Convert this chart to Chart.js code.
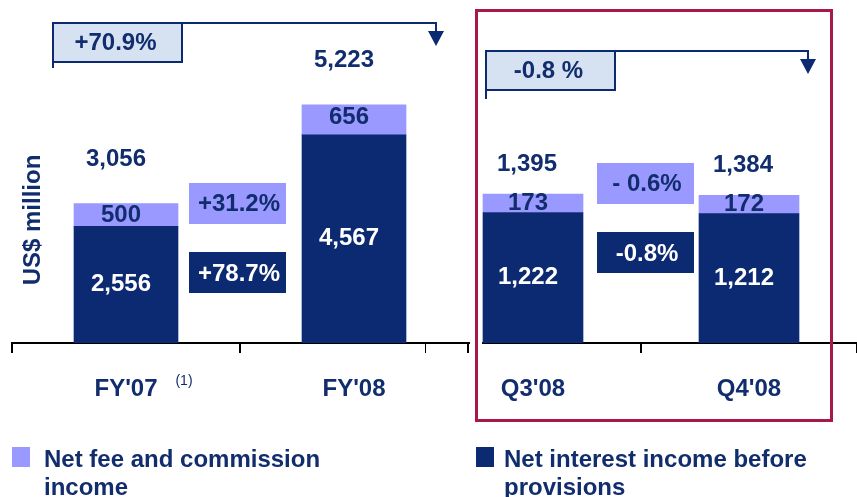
<!DOCTYPE html>
<html>
<head>
<meta charset="utf-8">
<script src="https://cdn.jsdelivr.net/npm/chart.js@4"></script>
<style>
  html, body { margin: 0; padding: 0; background: #fff; }
  #wrap { position: relative; width: 857px; height: 497px; overflow: hidden; font-family: 'Liberation Sans', Arial, sans-serif; }
  #leftBox { position: absolute; left: 0; top: 0; width: 470px; height: 497px; }
  #rightBox { position: absolute; left: 425px; top: 0; width: 432px; height: 497px; }
  .sq { position: absolute; width: 18px; height: 20px; }
  .legText { position: absolute; font-size: 24px; font-weight: bold; line-height: 28px; color: #112d6e; }
</style>
</head>
<body>
<div id="wrap">
  <div id="leftBox"><canvas id="leftChart"></canvas></div>
  <div id="rightBox"><canvas id="rightChart"></canvas></div>
  <div class="sq" style="left:12px;top:447px;background:#9999ff"></div>
  <div class="legText" style="left:44px;top:445px">Net fee and commission<br>income</div>
  <div class="sq" style="left:476px;top:447px;background:#0c2a72"></div>
  <div class="legText" style="left:504px;top:445px">Net interest income before<br>provisions</div>
</div>
<script>
// data
const fyLabels = ["FY'07", "FY'08"];
const fyInterest = [2556, 4567];
const fyFee = [500, 656];
const fyTotals = [3056, 5223];
const fyGrowth = ['+70.9%', '+31.2%', '+78.7%']; // total, fee, interest

const qLabels = ["Q3'08", "Q4'08"];
const qInterest = [1222, 1212];
const qFee = [173, 172];
const qTotals = [1395, 1384];
const qGrowth = ['-0.8 %', '- 0.6%', '-0.8%'];

const NAVY = '#0c2a72';
const TXT = '#112d6e';
const LILAC = '#9999ff';
const PALE = '#d6e2f1';
const FONT = "'Liberation Sans', Arial, sans-serif";
const SIZE = 24;

function fmt(v) { return v.toLocaleString('en-US'); }

function text(ctx, s, x, y, color, size, weight) {
    ctx.fillStyle = color;
    ctx.font = (weight || 'bold') + ' ' + (size || SIZE) + 'px ' + FONT;
    ctx.textAlign = 'center';
    ctx.textBaseline = 'middle';
    ctx.fillText(s, x, y);
}

function bracket(ctx, x1, x2, y, drop, box) {
    ctx.strokeStyle = NAVY;
    ctx.lineWidth = 2;
    ctx.beginPath();
    ctx.moveTo(x1, y + drop);
    ctx.lineTo(x1, y);
    ctx.lineTo(x2, y);
    ctx.lineTo(x2, y + 9);
    ctx.stroke();
    ctx.fillStyle = NAVY;
    ctx.beginPath();
    ctx.moveTo(x2 - 8, y + 8);
    ctx.lineTo(x2 + 8, y + 8);
    ctx.lineTo(x2, y + 23);
    ctx.closePath();
    ctx.fill();
    ctx.fillStyle = PALE;
    ctx.fillRect(x1, y, box.w, box.h);
    ctx.strokeRect(x1, y, box.w, box.h);
    text(ctx, box.label, x1 + box.w / 2 - 2, y + box.h / 2 + 1, TXT);
}

function growthBoxes(ctx, cx, yFee, yInt, labels) {
    ctx.fillStyle = LILAC;
    ctx.fillRect(cx - 48, yFee, 97, 41);
    text(ctx, labels[1], cx + 2, yFee + 21, TXT);
    ctx.fillStyle = NAVY;
    ctx.fillRect(cx - 48, yInt, 97, 41);
    text(ctx, labels[2], cx + 2, yInt + 22, '#ffffff');
}

// value labels on and above the stacked bars
function barLabels(chart, totals, totalLift, totalShift) {
    const ctx = chart.ctx;
    const dark = chart.getDatasetMeta(0).data;
    const light = chart.getDatasetMeta(1).data;
    dark.forEach((el, i) => {
        text(ctx, fmt(chart.data.datasets[0].data[i]), el.x - 5, (el.y + el.base) / 2, '#ffffff');
        const l = light[i];
        text(ctx, fmt(chart.data.datasets[1].data[i]), l.x - 5, Math.min(l.y + 13, (l.y + l.base) / 2), TXT);
        text(ctx, fmt(totals[i]), l.x + totalShift, l.y - totalLift, TXT);
    });
}

const leftDeco = {
    id: 'leftDeco',
    afterDatasetsDraw(chart) {
        const ctx = chart.ctx;
        const a = chart.chartArea;
        ctx.save();
        barLabels(chart, fyTotals, 44, -10);
        const mid = (a.left + a.right) / 2;
        growthBoxes(ctx, mid - 3, 183, 252, fyGrowth);
        bracket(ctx, 53, 436, 23, 45, { w: 129, h: 39, label: fyGrowth[0] });
        // footnote marker next to FY'07
        text(ctx, '(1)', 184, 381, TXT, 14, 'normal');
        // y axis title
        ctx.translate(33, 220);
        ctx.rotate(-Math.PI / 2);
        text(ctx, 'US$ million', 0, 0, TXT);
        ctx.restore();
    }
};

const rightDeco = {
    id: 'rightDeco',
    afterDatasetsDraw(chart) {
        const ctx = chart.ctx;
        ctx.save();
        barLabels(chart, qTotals, 30, -6);
        ctx.translate(-425, 0);
        // small break in the axis at the framed panel
        ctx.fillStyle = '#ffffff';
        ctx.fillRect(470, 339, 12, 16);
        growthBoxes(ctx, 645, 163, 232, qGrowth);
        bracket(ctx, 486, 808, 51, 48, { w: 129, h: 39, label: qGrowth[0] });
        ctx.strokeStyle = '#a8184c';
        ctx.lineWidth = 3;
        ctx.strokeRect(476.5, 10.5, 355, 410);
        ctx.restore();
    }
};

function makeChart(id, labels, interest, fee, yMax, thickness, padLeft, padRight, plugin) {
    return new Chart(document.getElementById(id), {
        type: 'bar',
        data: {
            labels: labels,
            datasets: [
                { label: 'Net interest income before provisions', data: interest, backgroundColor: NAVY, barThickness: thickness },
                { label: 'Net fee and commission income', data: fee, backgroundColor: LILAC, barThickness: thickness }
            ]
        },
        options: {
            responsive: true, maintainAspectRatio: false, animation: false,
            layout: { padding: { left: padLeft, right: padRight, top: 0, bottom: 0 } },
            plugins: { legend: { display: false }, tooltip: { enabled: false } },
            scales: {
                x: {
                    stacked: true,
                    afterFit: (s) => { s.height = 154; },
                    border: { display: true, color: '#000', width: 2 },
                    grid: { display: true, drawOnChartArea: false, drawTicks: true, tickLength: 10, color: '#000', lineWidth: 2 },
                    ticks: { color: TXT, padding: 22, font: { family: FONT, size: SIZE, weight: 'bold' } }
                },
                y: { stacked: true, display: false, min: 0, max: yMax }
            }
        },
        plugins: [plugin]
    });
}

makeChart('leftChart', fyLabels, fyInterest, fyFee, 7522, 104, 12, 2, leftDeco);
makeChart('rightChart', qLabels, qInterest, qFee, 3212, 100, 0, 0, rightDeco);
</script>
</body>
</html>
